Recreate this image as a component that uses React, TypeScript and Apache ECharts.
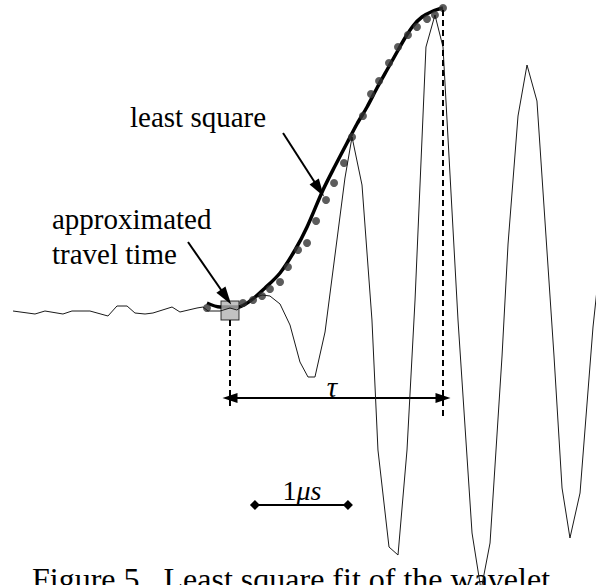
import React, { useEffect, useRef } from "react";
import * as echarts from "echarts";

// time in microseconds (0 = approximated travel time), amplitude in arbitrary units
const waveTime = [-1.808, -1.625, -1.542, -1.392, -1.317, -1.167, -1.017, -0.942, -0.858, -0.792, -0.708, -0.642, -0.483, -0.417, -0.275, -0.225, -0.183, -0.083, 0, 0.058, 0.167, 0.267, 0.333, 0.417, 0.5, 0.583, 0.65, 0.708, 0.792, 0.958, 1.017, 1.1, 1.183, 1.233, 1.325, 1.4, 1.475, 1.542, 1.633, 1.708, 1.775, 1.9, 2.017, 2.092, 2.167, 2.267, 2.317, 2.4, 2.475, 2.558, 2.7, 2.767, 2.833, 2.917, 3.025, 3.067];
const waveAmp = [0.01, -0.02, 0.01, -0.02, 0.01, 0.01, -0.04, 0.06, 0.06, -0.01, -0.02, -0.01, 0.05, 0, 0.04, 0.05, 0.01, 0.01, 0.04, 0.02, 0.12, 0.17, 0.16, 0.08, -0.13, -0.5, -0.65, -0.65, -0.2, 1.34, 1.75, 1.27, -0.08, -1.38, -2.35, -2.43, -1.38, 0.12, 2.65, 2.97, 2.65, -0.08, -2.21, -2.78, -2.31, -0.44, 0.68, 1.96, 2.47, 2.11, -0.44, -1.76, -2.26, -1.81, -0.15, 0.32];

const fitTime = [-0.192, -0.083, 0.067, 0.167, 0.292, 0.417, 0.542, 0.642, 0.775, 0.875, 0.975, 1.058, 1.142, 1.225, 1.308, 1.392, 1.458, 1.525, 1.6, 1.692, 1.775];
const fitAmp = [0.09, 0.05, 0.05, 0.11, 0.24, 0.39, 0.62, 0.85, 1.22, 1.46, 1.69, 1.88, 2.05, 2.24, 2.42, 2.6, 2.74, 2.86, 2.95, 3.01, 3.04];

const dotTime = [-0.192, 0.108, 0.192, 0.267, 0.333, 0.417, 0.483, 0.567, 0.642, 0.717, 0.8, 0.867, 0.95, 1.017, 1.108, 1.175, 1.242, 1.325, 1.4, 1.483, 1.558, 1.642, 1.708, 1.775];
const dotAmp = [0.04, 0.09, 0.12, 0.16, 0.23, 0.3, 0.45, 0.62, 0.69, 0.91, 1.12, 1.29, 1.49, 1.75, 1.96, 2.18, 2.31, 2.49, 2.65, 2.77, 2.85, 2.93, 2.97, 3.04];

const travelTime = 0;
const travelAmp = 0.015;
const peakTime = 1.775;
const tauLevel = -0.86;
const scaleBar = [0.208, 0.983];
const scaleLevel = -1.93;

const X_MIN = -1.9167;
const X_MAX = 3.05;
const Y_MIN = -2.73;
const Y_MAX = 3.12;

const FONT = '"Liberation Serif", "Times New Roman", serif';

const zip = (a: number[], b: number[]) => a.map((v, i) => [v, b[i]]);

export default function App() {
  const ref = useRef<HTMLDivElement>(null);
  useEffect(() => {
    if (!ref.current) return;
    const chart = echarts.init(ref.current, undefined, { renderer: "svg" });
    const arrowLine = (from: number[], to: number[], both: boolean, width: number, size: number[]) => ({
      silent: true,
      symbol: both ? ["triangle", "triangle"] : ["none", "triangle"],
      symbolSize: size,
      label: { show: false },
      emphasis: { disabled: true },
      lineStyle: { color: "#000", width, type: "solid" },
      data: [[{ coord: from }, { coord: to }]],
    });
    chart.setOption({
      animation: false,
      backgroundColor: "#fff",
      grid: { left: 0, right: 0, top: 0, bottom: 0, containLabel: false },
      xAxis: { type: "value", min: X_MIN, max: X_MAX, show: false },
      yAxis: { type: "value", min: Y_MIN, max: Y_MAX, show: false },
      series: [
        {
          name: "least square",
          type: "line",
          data: zip(fitTime, fitAmp),
          smooth: 0.3,
          showSymbol: false,
          lineStyle: { color: "#000", width: 3.5 },
          z: 2,
          silent: true,
        },
        {
          name: "travel time",
          type: "scatter",
          data: [[travelTime, travelAmp]],
          symbol: "rect",
          symbolSize: [18, 19],
          itemStyle: { color: "#b3b3b3", borderColor: "#000", borderWidth: 1 },
          z: 3,
          silent: true,
        },
        {
          name: "samples",
          type: "scatter",
          data: zip(dotTime, dotAmp),
          symbolSize: 8,
          itemStyle: { color: "#333" },
          z: 4,
          silent: true,
        },
        {
          name: "waveform",
          type: "line",
          data: zip(waveTime, waveAmp),
          showSymbol: false,
          lineStyle: { color: "#1a1a1a", width: 1 },
          z: 5,
          silent: true,
        },
        {
          name: "start marker",
          type: "line",
          data: [[travelTime, -0.08], [travelTime, -0.98]],
          showSymbol: false,
          lineStyle: { color: "#000", width: 2, type: [6, 4] },
          z: 6,
          silent: true,
          markLine: arrowLine([travelTime, tauLevel], [peakTime, tauLevel], true, 2, [10, 15]),
        },
        {
          name: "peak marker",
          type: "line",
          data: [[peakTime, 3.02], [peakTime, -1.05]],
          showSymbol: false,
          lineStyle: { color: "#000", width: 2, type: [6, 4] },
          z: 6,
          silent: true,
          markLine: arrowLine([0.442, 1.79], [0.742, 1.23], false, 2, [11, 18]),
        },
        {
          name: "scale",
          type: "line",
          data: [[scaleBar[0], scaleLevel], [scaleBar[1], scaleLevel]],
          symbol: "diamond",
          symbolSize: 10,
          showSymbol: true,
          itemStyle: { color: "#000" },
          lineStyle: { color: "#000", width: 2 },
          z: 6,
          silent: true,
          markLine: arrowLine([-0.35, 0.7], [-0.033, 0.15], false, 2, [11, 18]),
        },
      ],
      graphic: [
        { type: "text", x: 130, y: 131, style: { text: "least square", font: `29px ${FONT}`, fill: "#000", textVerticalAlign: "bottom" } },
        { type: "text", x: 52, y: 233, style: { text: "approximated", font: `29px ${FONT}`, fill: "#000", textVerticalAlign: "bottom" } },
        { type: "text", x: 52, y: 268, style: { text: "travel time", font: `29px ${FONT}`, fill: "#000", textVerticalAlign: "bottom" } },
        { type: "text", x: 332, y: 401, style: { text: "τ", font: `italic 29px ${FONT}`, fill: "#000", textAlign: "center", textVerticalAlign: "bottom" } },
        {
          type: "text",
          x: 302,
          y: 504,
          style: {
            text: "{a|1}{b|μs}",
            fill: "#000",
            textAlign: "center",
            textVerticalAlign: "bottom",
            rich: {
              a: { fontFamily: FONT, fontSize: 28, fill: "#000" },
              b: { fontFamily: FONT, fontSize: 28, fontStyle: "italic", fill: "#000" },
            },
          },
        },
        { type: "text", x: 32, y: 595, style: { text: "Figure 5.  Least square fit of the wavelet", font: `32px ${FONT}`, fill: "#000", textVerticalAlign: "bottom" } },
      ],
    });
    return () => chart.dispose();
  }, []);
  return <div ref={ref} style={{ position: "absolute", left: 0, top: 0, width: 596, height: 585 }} />;
}
